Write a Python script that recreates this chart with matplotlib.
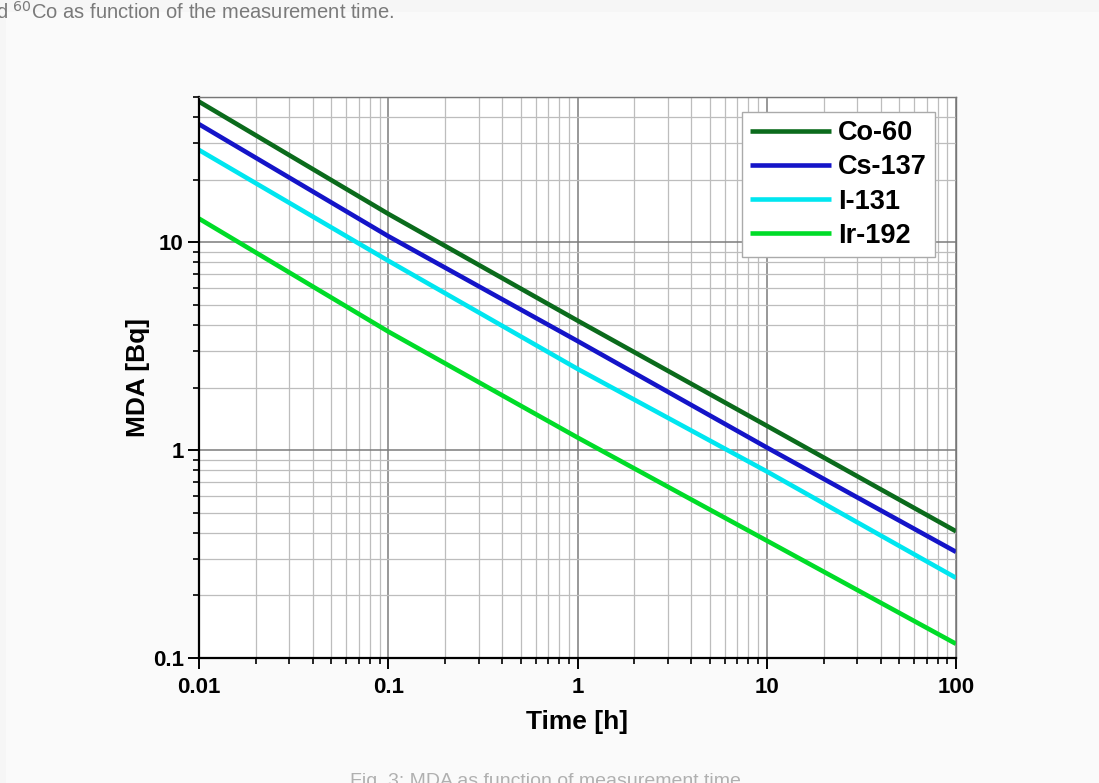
import matplotlib
matplotlib.use("Agg")
import matplotlib.pyplot as plt
from matplotlib.ticker import LogLocator, FixedLocator, FixedFormatter, NullFormatter
from matplotlib.patches import Rectangle

time_h = [0.01, 0.1, 1, 10, 100]
co60 = [47.5, 13.7, 4.2, 1.31, 0.407]
cs137 = [37.0, 10.7, 3.35, 1.03, 0.324]
i131 = [27.8, 8.15, 2.46, 0.79, 0.243]
ir192 = [13.0, 3.72, 1.15, 0.367, 0.117]

names = ["Co-60", "Cs-137", "I-131", "Ir-192"]
colors = ["#0b6b1c", "#1414c8", "#00e6f0", "#00dc28"]

xticks = [0.01, 0.1, 1, 10, 100]
xticklabels = ["0.01", "0.1", "1", "10", "100"]
yticks = [0.1, 1, 10]
yticklabels = ["0.1", "1", "10"]

plt.rcParams['font.family'] = ['Liberation Sans', 'DejaVu Sans']

fig = plt.figure(figsize=(10.99, 7.83), dpi=100, facecolor="#f6f6f6")
fig.patches.append(Rectangle((6 / 1099, 0), 1, 1 - 12 / 783, transform=fig.transFigure,
                             facecolor="#fafafa", edgecolor="none", zorder=-1))

ax = fig.add_axes([199 / 1099, 1 - 658 / 783, (956 - 199) / 1099, (658 - 97) / 783])
ax.set_facecolor("white")
ax.set_xscale("log")
ax.set_yscale("log")

for vals, name, c in zip([co60, cs137, i131, ir192], names, colors):
    ax.plot(time_h, vals, color=c, lw=3.3, label=name, solid_capstyle="butt")

ax.set_xlim(0.01, 100)
ax.set_ylim(0.1, 50)

ax.xaxis.set_major_locator(FixedLocator(xticks))
ax.xaxis.set_major_formatter(FixedFormatter(xticklabels))
ax.yaxis.set_major_locator(FixedLocator(yticks))
ax.yaxis.set_major_formatter(FixedFormatter(yticklabels))
ax.xaxis.set_minor_locator(LogLocator(base=10, subs=range(2, 10)))
ax.yaxis.set_minor_locator(LogLocator(base=10, subs=range(2, 10)))
ax.xaxis.set_minor_formatter(NullFormatter())
ax.yaxis.set_minor_formatter(NullFormatter())

ax.grid(which="major", color="#7c7c7c", lw=1.1)
ax.grid(which="minor", color="#bdbdbd", lw=0.9)
ax.set_axisbelow(True)

ax.tick_params(which="major", direction="out", length=8, width=1.4, pad=6)
ax.tick_params(axis="y", which="major", pad=3)
ax.tick_params(which="minor", direction="out", length=4, width=1.2)
for lab in ax.get_xticklabels() + ax.get_yticklabels():
    lab.set_fontweight("bold")
    lab.set_fontsize(16)
for sp in ["left", "bottom"]:
    ax.spines[sp].set_linewidth(1.6)
for sp in ["top", "right"]:
    ax.spines[sp].set_linewidth(1.0)
    ax.spines[sp].set_color("#777777")

ax.set_xlabel("Time [h]", fontsize=19, fontweight="bold", labelpad=8)
ax.set_ylabel("MDA [Bq]", fontsize=19, fontweight="bold", labelpad=2)

leg = ax.legend(loc="upper right", bbox_to_anchor=(0.972, 0.973), borderaxespad=0,
                fancybox=False, framealpha=1, edgecolor="#aaaaaa",
                prop={"size": 19.5, "weight": "bold"}, handlelength=3.0,
                handletextpad=0.25, labelspacing=0.3, borderpad=0.3)
leg.get_frame().set_linewidth(1.0)

fig.text(-0.004, 1 - 1 / 783, "d $^{60}$Co as function of the measurement time.",
         fontsize=14.5, color="#7a7a7a", ha="left", va="top")
fig.text(350 / 1099, 1 - 773 / 783, "Fig. 3: MDA as function of measurement time",
         fontsize=14, color="#b0b0b0", ha="left", va="top")

fig.savefig("out.png", dpi=100, facecolor=fig.get_facecolor())
